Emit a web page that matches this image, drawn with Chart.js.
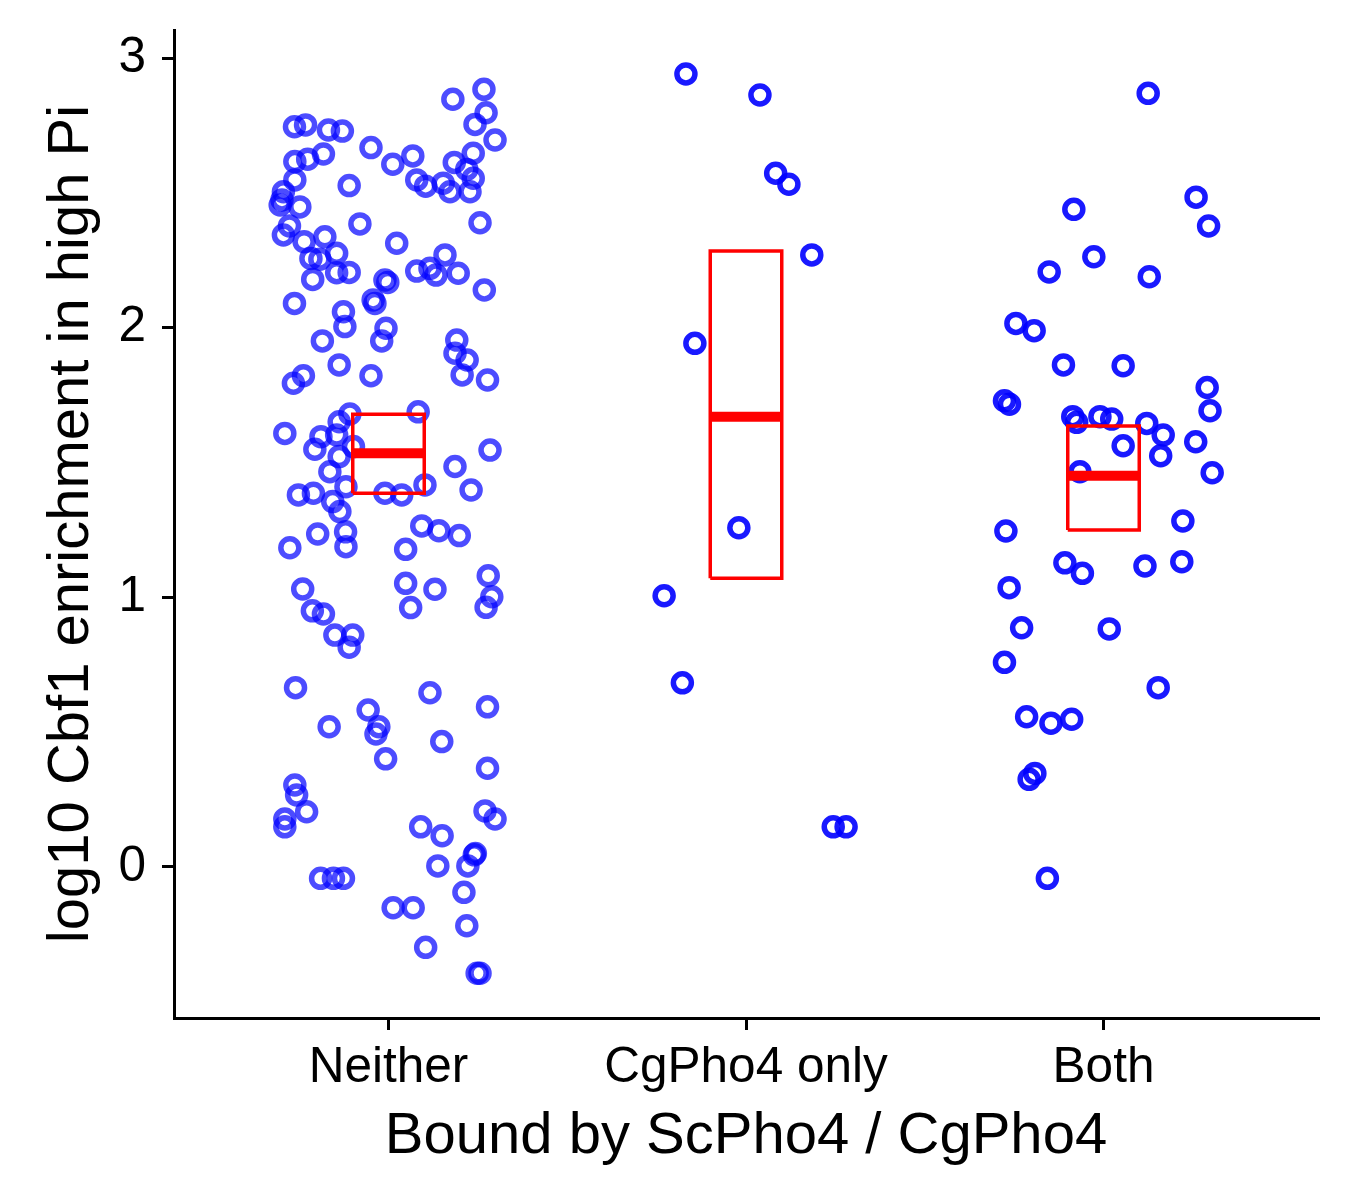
<!DOCTYPE html>
<html>
<head>
<meta charset="utf-8">
<script src="https://cdn.jsdelivr.net/npm/chart.js@4/dist/chart.umd.min.js"></script>
<style>
  html, body { margin: 0; padding: 0; background: #ffffff; }
  #wrap { width: 1350px; height: 1200px; }
</style>
</head>
<body>
<div id="wrap"><canvas id="c" width="1350" height="1200"></canvas></div>
<script>
const categories = ['Neither', 'CgPho4 only', 'Both'];
const yTicks = [0, 1, 2, 3];
const xTitle = 'Bound by ScPho4 / CgPho4';
const yTitle = 'log10 Cbf1 enrichment in high Pi';

// Jittered x positions (category index + jitter) and y values
const neitherX = [1.180,1.267,1.273,1.242,1.298,0.737,0.768,0.832,0.871,0.951,1.068,1.012,1.237,1.184,0.738,0.774,0.818,0.738,1.079,1.104,
  1.153,1.172,1.219,1.237,1.228,0.890,0.706,0.702,0.697,0.752,1.256,0.920,0.723,0.706,0.764,0.822,1.023,0.855,0.783,0.808,
  1.158,1.079,1.116,1.133,1.195,0.855,0.890,0.788,0.990,0.998,1.268,0.737,0.957,0.962,0.874,0.878,0.993,0.981,0.815,1.191,
  1.186,1.220,1.206,1.277,0.862,0.951,0.762,0.734,1.083,0.892,0.862,0.710,0.811,0.855,0.794,0.902,0.862,0.836,1.284,1.186,
  0.881,1.102,0.990,1.037,1.231,0.748,0.790,0.844,0.864,1.093,1.141,1.198,0.802,0.880,0.881,0.724,1.048,1.279,1.289,1.273,
  1.048,1.130,1.062,0.760,0.787,0.818,0.850,0.900,0.890,0.740,1.116,1.277,0.834,0.943,0.973,0.965,1.149,0.992,1.277,0.738,
  0.743,0.771,0.710,0.710,1.270,1.298,1.090,1.150,1.240,1.243,1.222,1.138,0.810,0.846,0.874,1.211,1.013,1.069,1.219,1.104,
  1.248,1.256];
const neitherY = [2.847,2.884,2.797,2.754,2.696,2.745,2.752,2.733,2.729,2.668,2.637,2.606,2.647,2.613,2.616,2.625,2.644,2.548,2.548,2.525,
  2.536,2.504,2.587,2.554,2.504,2.527,2.504,2.474,2.455,2.448,2.389,2.385,2.377,2.344,2.319,2.337,2.313,2.276,2.257,2.254,
  2.270,2.210,2.220,2.195,2.202,2.204,2.205,2.179,2.177,2.168,2.140,2.090,2.103,2.090,2.059,2.004,1.998,1.951,1.951,1.954,
  1.905,1.880,1.825,1.806,1.862,1.822,1.822,1.794,1.688,1.680,1.651,1.608,1.596,1.602,1.549,1.559,1.522,1.466,1.546,1.485,
  1.410,1.417,1.386,1.380,1.398,1.380,1.386,1.355,1.318,1.265,1.247,1.229,1.235,1.243,1.188,1.184,1.178,1.080,1.002,0.963,
  1.052,1.030,0.962,1.031,0.950,0.938,0.860,0.860,0.815,0.665,0.646,0.594,0.520,0.582,0.520,0.493,0.465,0.401,0.366,0.304,
  0.267,0.205,0.178,0.149,0.208,0.178,0.149,0.116,0.045,0.050,0.004,0.004,-0.042,-0.042,-0.042,-0.094,-0.151,-0.151,-0.218,-0.298,
  -0.394,-0.394];

const cgX = [1.832,2.039,2.083,2.120,2.184,1.857,1.980,1.771,1.822,2.244,2.280];
const cgY = [2.941,2.863,2.573,2.532,2.270,1.942,1.258,1.006,0.683,0.149,0.149];

const bothX = [3.125,3.259,3.294,2.917,2.973,2.848,3.128,2.755,2.806,2.888,3.055,3.290,3.298,2.723,2.737,2.914,2.925,2.990,3.023,3.121,
  3.167,3.055,3.160,3.258,2.934,3.304,3.222,2.727,2.892,2.941,3.116,3.219,2.736,2.771,3.016,2.723,3.153,2.785,2.853,2.911,
  2.808,2.792,2.843];
const bothY = [2.869,2.484,2.377,2.439,2.263,2.207,2.189,2.016,1.989,1.862,1.859,1.778,1.692,1.729,1.716,1.670,1.649,1.670,1.661,1.645,
  1.602,1.562,1.525,1.577,1.466,1.462,1.283,1.246,1.128,1.089,1.116,1.132,1.036,0.887,0.883,0.759,0.665,0.557,0.533,0.548,
  0.347,0.325,-0.042];

// Crossbar summary per category
const boxLow  = [1.386, 1.071, 1.250];
const boxMean = [1.534, 1.670, 1.451];
const boxHigh = [1.679, 2.284, 1.635];
const boxHalfWidth = 0.1;

const FONT = "'Liberation Sans', Arial, Helvetica, sans-serif";

function pts(xs, ys) { return xs.map((x, i) => ({ x: x, y: ys[i] })); }

const datasets = [];
categories.forEach((c, i) => {
  const cx = i + 1;
  datasets.push({
    label: c + ' mean',
    data: [{ x: cx - boxHalfWidth, y: boxMean[i] }, { x: cx + boxHalfWidth, y: boxMean[i] }],
    showLine: true, borderColor: '#ff0000', borderWidth: 10, borderCapStyle: 'butt',
    pointRadius: 0, fill: false, order: 0
  });
  datasets.push({
    label: c + ' box',
    data: [
      { x: cx - boxHalfWidth, y: boxLow[i] }, { x: cx + boxHalfWidth, y: boxLow[i] },
      { x: cx + boxHalfWidth, y: boxHigh[i] }, { x: cx - boxHalfWidth, y: boxHigh[i] },
      { x: cx - boxHalfWidth, y: boxLow[i] }
    ],
    showLine: true, borderColor: '#ff0000', borderWidth: 3.5, borderJoinStyle: 'miter',
    pointRadius: 0, fill: false, order: 1
  });
});
const groups = [[neitherX, neitherY, 'rgba(0,0,255,0.7)'], [cgX, cgY, 'rgba(0,0,255,0.9)'], [bothX, bothY, 'rgba(0,0,255,0.9)']];
groups.forEach((g, i) => {
  datasets.push({
    label: categories[i],
    data: pts(g[0], g[1]),
    pointStyle: 'circle', pointRadius: 9, pointBorderWidth: 5.5,
    pointBorderColor: g[2], pointBackgroundColor: 'rgba(0,0,0,0)',
    showLine: false, order: 2
  });
});

function zeroPad(s) { s.paddingTop = 0; s.paddingBottom = 0; s.paddingLeft = 0; s.paddingRight = 0; }

new Chart(document.getElementById('c'), {
  type: 'scatter',
  data: { datasets: datasets },
  options: {
    responsive: false,
    animation: false,
    events: [],
    layout: { padding: { top: 30, right: 32, left: 0, bottom: 0 } },
    plugins: { legend: { display: false }, tooltip: { enabled: false }, title: { display: false } },
    scales: {
      x: {
        type: 'linear', min: 0.4, max: 3.6,
        afterBuildTicks: s => { s.ticks = categories.map((c, i) => ({ value: i + 1 })); },
        afterFit: s => { s.height = 182; zeroPad(s); },
        ticks: {
          callback: v => categories[Math.round(v) - 1],
          font: { family: FONT, size: 49.5 }, color: '#000000', padding: 9, maxRotation: 0, autoSkip: false
        },
        grid: { drawOnChartArea: false, drawTicks: true, tickLength: 12, color: '#000000', lineWidth: 3 },
        border: { display: true, color: '#000000', width: 3 },
        title: { display: true, text: xTitle, color: '#000000', font: { family: FONT, size: 58 }, padding: { top: 0, bottom: 28 } }
      },
      y: {
        type: 'linear', min: -0.56, max: 3.104,
        afterBuildTicks: s => { s.ticks = yTicks.map(v => ({ value: v })); },
        afterFit: s => { s.width = 174; zeroPad(s); },
        ticks: { font: { family: FONT, size: 49.5 }, color: '#000000', padding: 16 },
        grid: { drawOnChartArea: false, drawTicks: true, tickLength: 12, color: '#000000', lineWidth: 3 },
        border: { display: true, color: '#000000', width: 3 },
        title: { display: true, text: yTitle, color: '#000000', font: { family: FONT, size: 58 }, padding: { top: 37, bottom: 0 } }
      }
    }
  }
});
</script>
</body>
</html>
